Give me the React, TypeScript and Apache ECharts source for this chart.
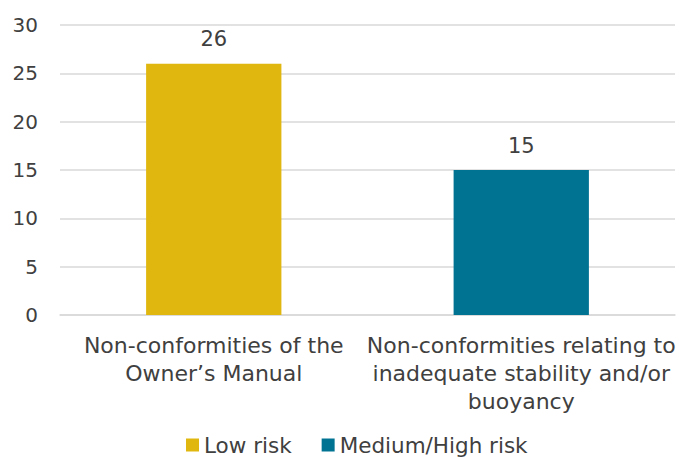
import React, { useEffect, useRef } from "react";
import * as echarts from "echarts";

const categories = [
  "Non-conformities of the\nOwner’s Manual",
  "Non-conformities relating to\ninadequate stability and/or\nbuoyancy",
];
const lowRisk = [26, null];
const mediumHighRisk = [null, 15];
const seriesNames = ["Low risk", "Medium/High risk"];

const FONT = "'DejaVu Sans', sans-serif";
const TEXT = "#404040";

export default function App() {
  const ref = useRef<HTMLDivElement>(null);
  useEffect(() => {
    const chart = echarts.init(ref.current!, undefined, { renderer: "svg" });
    chart.setOption({
      animation: false,
      textStyle: { fontFamily: FONT, color: TEXT },
      grid: { left: 60, right: 4, top: 25, bottom: 143 },
      legend: {
        bottom: -3,
        left: 181,
        itemWidth: 13,
        itemHeight: 13,
        itemGap: 30,
        icon: "rect",
        textStyle: { fontFamily: FONT, fontSize: 21.5, color: TEXT, padding: [0, 0, 0, 0] },
        data: seriesNames,
      },
      xAxis: {
        type: "category",
        data: categories,
        axisLine: { show: true, lineStyle: { color: "#d9d9d9", width: 1.5 } },
        axisTick: { show: false },
        axisLabel: {
          fontFamily: FONT,
          fontSize: 22,
          color: TEXT,
          lineHeight: 28,
          margin: 16,
          interval: 0,
        },
      },
      yAxis: {
        type: "value",
        min: 0,
        max: 30,
        interval: 5,
        axisLine: { show: false },
        axisTick: { show: false },
        splitLine: { lineStyle: { color: "#d9d9d9", width: 1.5 } },
        axisLabel: { fontFamily: FONT, fontSize: 20, color: TEXT, margin: 22 },
      },
      series: [
        {
          name: seriesNames[0],
          type: "bar",
          stack: "s",
          data: lowRisk,
          barWidth: "44%",
          itemStyle: { color: "#E0B70F" },
          label: { show: true, position: "top", distance: 14, fontFamily: FONT, fontSize: 21, color: TEXT },
        },
        {
          name: seriesNames[1],
          type: "bar",
          stack: "s",
          data: mediumHighRisk,
          barWidth: "44%",
          itemStyle: { color: "#007292" },
          label: { show: true, position: "top", distance: 14, fontFamily: FONT, fontSize: 21, color: TEXT },
        },
      ],
    });
    return () => chart.dispose();
  }, []);
  return <div ref={ref} style={{ width: 679, height: 458, position: "absolute", left: 0, top: 0 }} />;
}
